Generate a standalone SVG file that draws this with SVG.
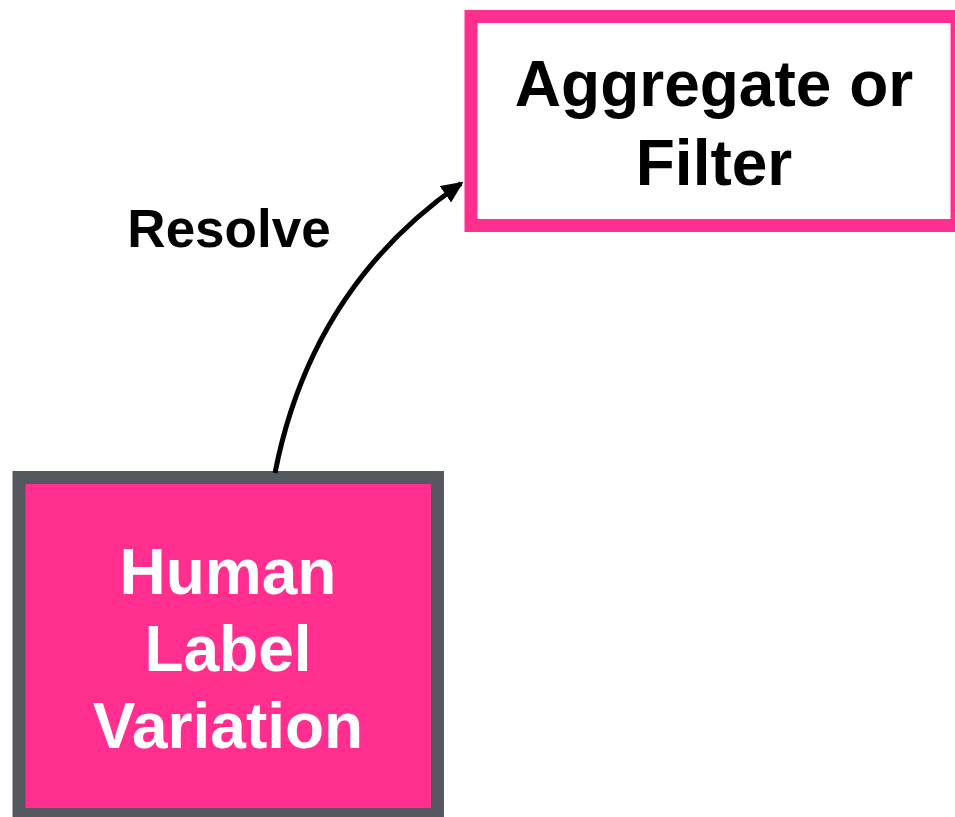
<svg xmlns="http://www.w3.org/2000/svg" width="955" height="817" viewBox="0 0 955 817">
  <style>
    .lbl { font-family: "Liberation Sans", Arial, Helvetica, sans-serif; font-weight: bold; text-anchor: middle; }
    .node-text { font-size: 64px; }
    .edge-text { font-size: 53px; }
  </style>
  <defs>
    <marker id="arrow" viewBox="0 0 22 20" refX="19" refY="10" markerWidth="22" markerHeight="20" markerUnits="userSpaceOnUse" orient="auto">
      <path d="M0,0 L22,10 L0,20 z" fill="#000"/>
    </marker>
  </defs>
  <rect width="955" height="817" fill="#fff"/>

  <g id="node-aggregate">
    <rect x="471" y="16.5" width="486" height="209" fill="#fff" stroke="#FF2E8F" stroke-width="13"/>
    <text class="lbl node-text" x="714" y="106" fill="#000">Aggregate or</text>
    <text class="lbl node-text" x="714" y="185" fill="#000">Filter</text>
  </g>

  <g id="node-hlv">
    <rect x="19" y="477.5" width="418.5" height="337" fill="#FF2E8F" stroke="#55595F" stroke-width="13"/>
    <text class="lbl node-text" x="228" y="594" fill="#fff">Human</text>
    <text class="lbl node-text" x="228" y="671" fill="#fff">Label</text>
    <text class="lbl node-text" x="228" y="748" fill="#fff">Variation</text>
  </g>

  <g id="connectors">
    <path d="M275,473 C300,345 365,250 461,183.5" fill="none" stroke="#000" stroke-width="5" marker-end="url(#arrow)"/>
    <text class="lbl edge-text" x="229" y="247" fill="#000">Resolve</text>
  </g>
</svg>
